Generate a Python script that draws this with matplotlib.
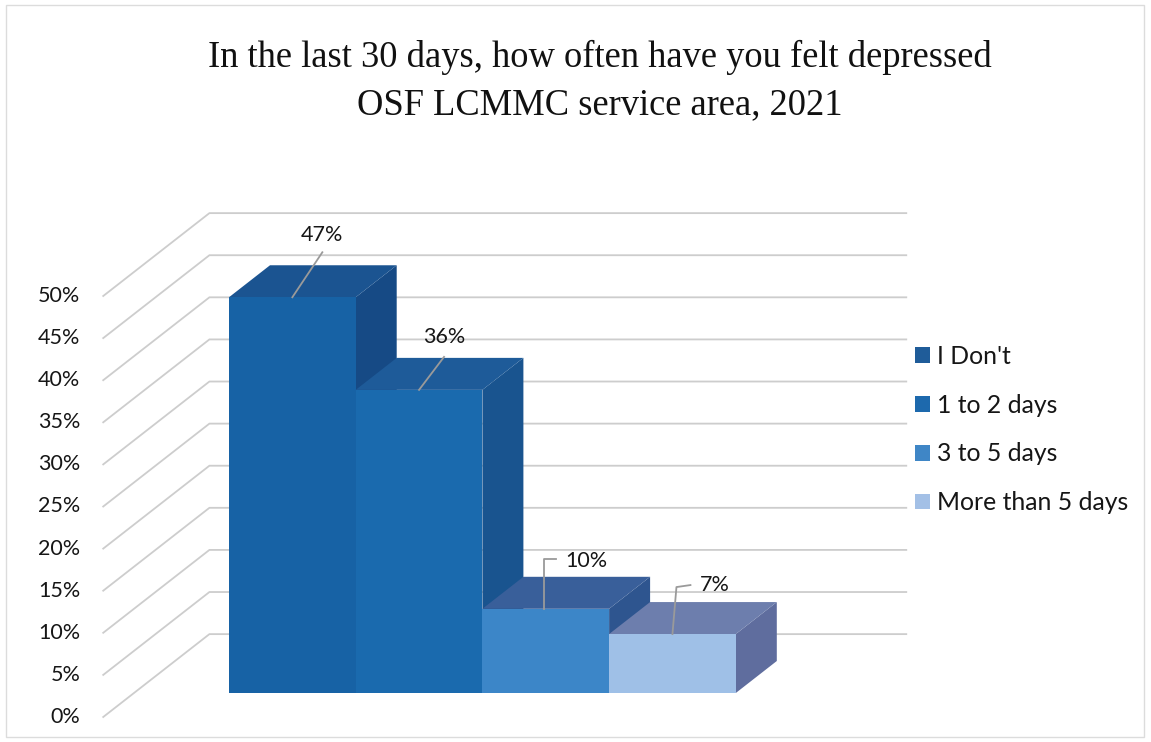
import matplotlib
matplotlib.use("Agg")
import matplotlib.pyplot as plt
from matplotlib.patches import Polygon, Patch, Rectangle

# ---- data ----
categories = ["I Don't", "1 to 2 days", "3 to 5 days", "More than 5 days"]
values = [47, 36, 10, 7]
value_labels = ["47%", "36%", "10%", "7%"]
tick_values = list(range(0, 55, 5))
tick_labels = [f"{v}%" for v in tick_values]
title_lines = ["In the last 30 days, how often have you felt depressed",
               "OSF LCMMC service area, 2021"]

# ---- styling ----
front_colors = ["#1762a5", "#1a6aae", "#3c86c8", "#9fc0e7"]
top_colors = ["#1b5491", "#1e5b99", "#395f9a", "#6d7ead"]
side_colors = ["#164a85", "#19548f", "#2e558f", "#5f6d9e"]
legend_colors = ["#1f5c99", "#1d69ad", "#3f86c6", "#a3c0e6"]
grid_color = "#cdcdcd"
text_color = "#161616"
sans = ["Lato", "DejaVu Sans"]
serif = ["Liberation Serif", "DejaVu Serif"]
label_size = 15.5

W, H, DPI = 1151, 742, 100
fig = plt.figure(figsize=(W / DPI, H / DPI), dpi=DPI)
fig.patch.set_facecolor("white")
ax = fig.add_axes([0, 0, 1, 1])

# pixel scale of the plotting frame: one category slot / one percent
UX, UY = 126.7, 8.42
X0, Y0 = 229, 693          # front-bottom-left corner of the first bar
ax.set_xlim(-X0 / UX, (W - X0) / UX)
ax.set_ylim(-(H - Y0) / UY, Y0 / UY)
ax.axis("off")

# oblique depth direction (one unit = bar depth)
KX, KY = 41 / UX, 32 / UY


def proj(x, y, d):
    return (x + d * KX, y + d * KY)


WALL_L, WALL_R = -0.75, len(values) + 0.75
D_FRONT, D_BACK = -0.75, 1.84

# side wall + back wall gridlines
for v in tick_values:
    pts = [proj(WALL_L, v, D_FRONT), proj(WALL_L, v, D_BACK), proj(WALL_R, v, D_BACK)]
    ax.plot([p[0] for p in pts], [p[1] for p in pts], color=grid_color, lw=1.3,
            zorder=1, solid_joinstyle="miter")

# tick labels at the front edge of the side wall
for v, lab in zip(tick_values, tick_labels):
    x, y = proj(WALL_L, v, D_FRONT)
    ax.text(x - 23 / UX, y, lab, ha="right", va="center", fontsize=label_size,
            family=sans, color=text_color)

# bars: front faces through ax.bar, top and side faces as oblique polygons
xs = list(range(len(values)))
bars = ax.bar(xs, values, width=1.0, align="edge", color=front_colors, linewidth=0)
for i, (v, rect) in enumerate(zip(values, bars)):
    z = 10 + 3 * i
    side = Polygon([proj(i + 1, 0, 0), proj(i + 1, v, 0), proj(i + 1, v, 1), proj(i + 1, 0, 1)],
                   closed=True, facecolor=side_colors[i], edgecolor="none", zorder=z)
    top = Polygon([proj(i, v, 0), proj(i + 1, v, 0), proj(i + 1, v, 1), proj(i, v, 1)],
                  closed=True, facecolor=top_colors[i], edgecolor="none", zorder=z + 1)
    ax.add_patch(side)
    ax.add_patch(top)
    rect.set_zorder(z + 2)

# data labels with leader lines (offsets in pixels from the top-front centre)
leader_px = [
    [(0, 0), (30, -45)],
    [(0, 0), (25, -33)],
    [(-2, 0), (-2, -50), (10, -50)],
    [(0, 0), (4, -47), (18, -49)],
]
text_px = [(30, -62), (25, -53), (41, -48), (42, -49)]
for i, (v, lab) in enumerate(zip(values, value_labels)):
    cx, cy = i + 0.5, v
    lx = [cx + dx / UX for dx, dy in leader_px[i]]
    ly = [cy - dy / UY for dx, dy in leader_px[i]]
    ax.plot(lx, ly, color="#9a9a9a", lw=1.3, zorder=30)
    tx, ty = text_px[i]
    ax.text(cx + tx / UX, cy - ty / UY, lab, ha="center", va="center",
            fontsize=label_size, family=sans, color=text_color, zorder=31)

# title
fig.text(600 / W, 1 - 67 / H, title_lines[0], ha="center", va="baseline",
         fontsize=26.3, family=serif, color="#111111")
fig.text(600 / W, 1 - 114 / H, title_lines[1], ha="center", va="baseline",
         fontsize=26.3, family=serif, color="#111111")

# legend
handles = [Patch(facecolor=c, edgecolor="none", label=l)
           for c, l in zip(legend_colors, categories)]
fig.legend(handles=handles, loc="upper left", bbox_to_anchor=(915 / W, 1 - 345 / H),
           frameon=False, prop={"family": sans, "size": 17.8}, handlelength=0.6,
           handleheight=0.6, handletextpad=0.3, labelspacing=1.04,
           labelcolor=text_color, borderpad=0, borderaxespad=0)

# chart-area border
fig.patches.append(Rectangle((6 / W, 5 / H), 1138 / W, 732 / H, transform=fig.transFigure,
                             fill=False, edgecolor="#dcdcdc", lw=1.0))

fig.savefig("out.png", dpi=DPI, facecolor="white")
